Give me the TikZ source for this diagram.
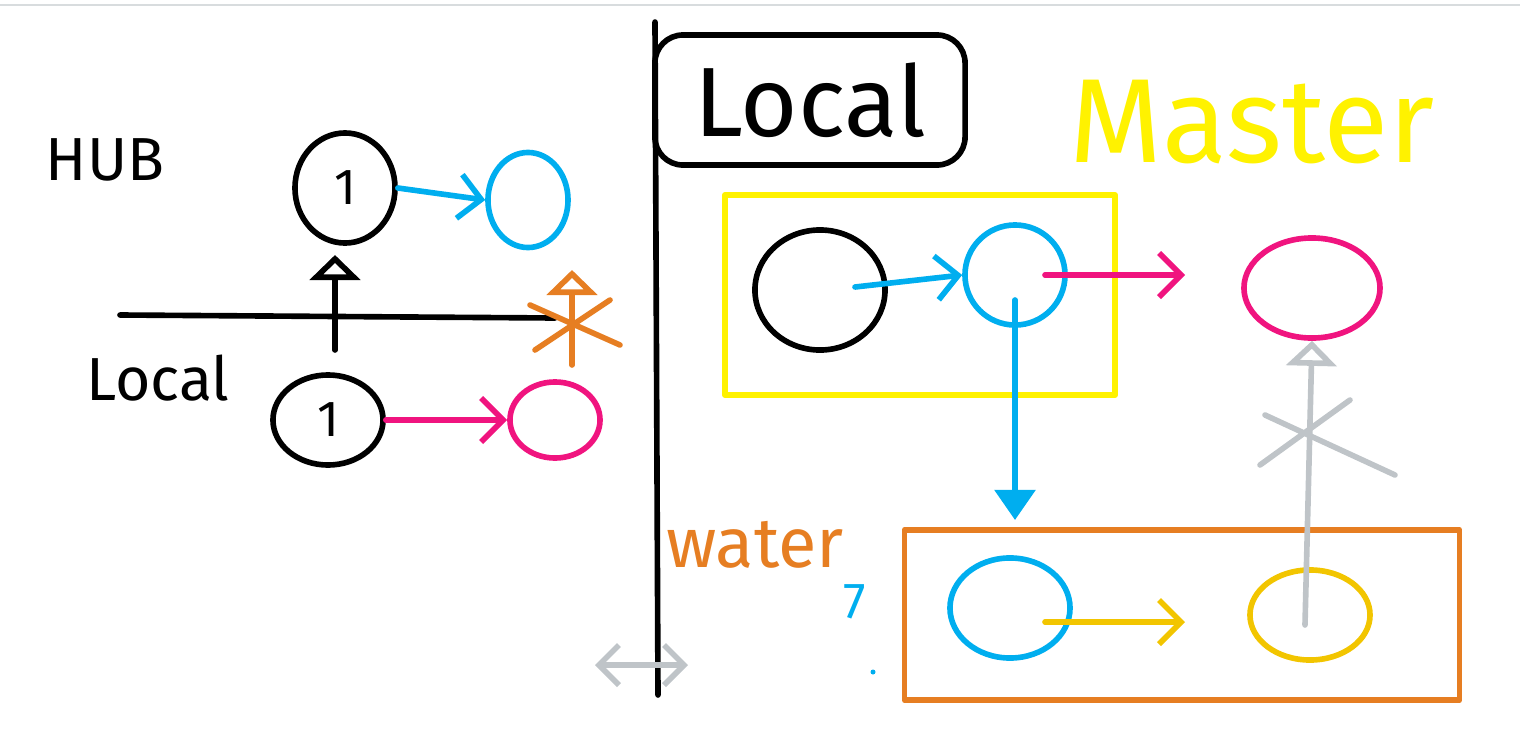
\documentclass[tikz,border=0pt]{standalone}
\usepackage{fontspec}
\setmainfont{Fira Sans}
\usetikzlibrary{positioning, arrows.meta, shapes.geometric}
\definecolor{skyblue}{HTML}{00AEEF}
\definecolor{hotpink}{HTML}{F0147F}
\definecolor{sunyellow}{HTML}{FFF200}
\definecolor{gold}{HTML}{F2C500}
\definecolor{rust}{HTML}{E67E22}
\definecolor{ash}{HTML}{BFC4C8}
\begin{document}
\begin{tikzpicture}[
    x=0.01cm, y=-0.01cm,
    pen/.style={line width=1.6pt, line cap=round, line join=round}, % Marker stroke
    blob/.style={pen, ellipse, draw, inner sep=0pt}, % Hand drawn circles
    word/.style={font=\LARGE}, % Handwritten labels
    tip/.style={-{Straight Barb[length=2.2mm]}}, % Open arrow heads
    blocktip/.style={-{Triangle[length=3mm,width=4mm]}}
  ]
    \useasboundingbox (0,0) rectangle (1520,730);
    \draw[ash!60, line width=0.5pt] (0,5) -- (1520,5);

    % Left half
    \node (hub)   [word] at (105,160) {HUB};
    \node (local) [word] at (158,378) {Local};
    \node (h1) [blob, minimum width=1.0cm, minimum height=1.1cm] at (345,188) {\Large 1};
    \node (h2) [blob, skyblue, minimum width=0.8cm, minimum height=0.95cm] at (528,200) {};
    \node (l1) [blob, minimum width=1.1cm, minimum height=0.9cm] at (328,420) {\Large 1};
    \node (l2) [blob, hotpink, minimum width=0.9cm, minimum height=0.76cm] at (555,420) {};
    \coordinate (ruleL) at (120,315);
    \coordinate (ruleR) at (555,318);
    \coordinate (upA) at (335,350);
    \coordinate (upB) at (335,255);
    \coordinate (orA) at (572,365);
    \coordinate (orB) at (572,270);

    \draw[pen] (ruleL) -- (ruleR);
    \draw[pen, -{Triangle[open, length=2.5mm, width=5mm]}] (upA) -- (upB);
    \draw[pen, skyblue, tip] (h1.east) -- (h2.west);
    \draw[pen, hotpink, tip] (l1.east) -- (l2.west);
    \draw[pen, rust, -{Triangle[open, length=2.5mm, width=5mm]}] (orA) -- (orB);
    \draw[pen, rust] (530,305) -- (620,345) (535,350) -- (610,300);

    % Divider and right half
    \coordinate (divT) at (655,22);
    \coordinate (divB) at (658,695);
    \draw[pen] (divT) -- (divB);
    \node (lbox) [pen, draw, rounded corners=8pt, minimum width=3.1cm, minimum height=1.3cm,
      font=\fontsize{28}{32}\selectfont] at (810,100) {Local};
    \node (master) [sunyellow, font=\fontsize{34}{38}\selectfont] at (1252,122) {Master};
    \node (ybox) [pen, draw=sunyellow, minimum width=3.9cm, minimum height=2.0cm] at (920,295) {};
    \node (obox) [pen, draw=rust, minimum width=5.55cm, minimum height=1.7cm] at (1182,615) {};
    \node (water) [rust, font=\fontsize{20}{24}\selectfont] at (755,545) {water};
    \node (seven) [skyblue, font=\Large] at (855,602) {7};
    \fill[skyblue] (873,672) circle (2.5);

    \node (m1) [blob, minimum width=1.3cm, minimum height=1.2cm] at (820,290) {};
    \node (m2) [blob, skyblue, minimum width=1.0cm, minimum height=1.0cm] at (1015,275) {};
    \node (m3) [blob, hotpink, minimum width=1.36cm, minimum height=1.0cm] at (1312,288) {};
    \node (w1) [blob, skyblue, minimum width=1.2cm, minimum height=1.0cm] at (1010,608) {};
    \node (w2) [blob, gold, minimum width=1.2cm, minimum height=0.9cm] at (1310,615) {};
    \coordinate (pinkEnd) at (1185,275);
    \coordinate (goldEnd) at (1185,622);

    \draw[pen, skyblue, tip] (m1.center) ++(35,-3) -- (m2.west);
    \draw[pen, hotpink, tip] (m2.center) ++(30,0) -- (pinkEnd);
    \draw[pen, skyblue, blocktip] (m2.center) ++(0,25) -- (1015,520);
    \draw[pen, gold, tip] (w1.center) ++(35,14) -- (goldEnd);
    \draw[pen, ash, -{Triangle[open, length=2.5mm, width=5mm]}] (w2.center) ++(-5,10) -- (m3.south);
    \draw[pen, ash] (1260,465) -- (1350,400) (1265,415) -- (1395,475);
    \draw[pen, ash, {Straight Barb[length=2mm]}-{Straight Barb[length=2mm]}] (595,665) -- (688,665);
\end{tikzpicture}
\end{document}
